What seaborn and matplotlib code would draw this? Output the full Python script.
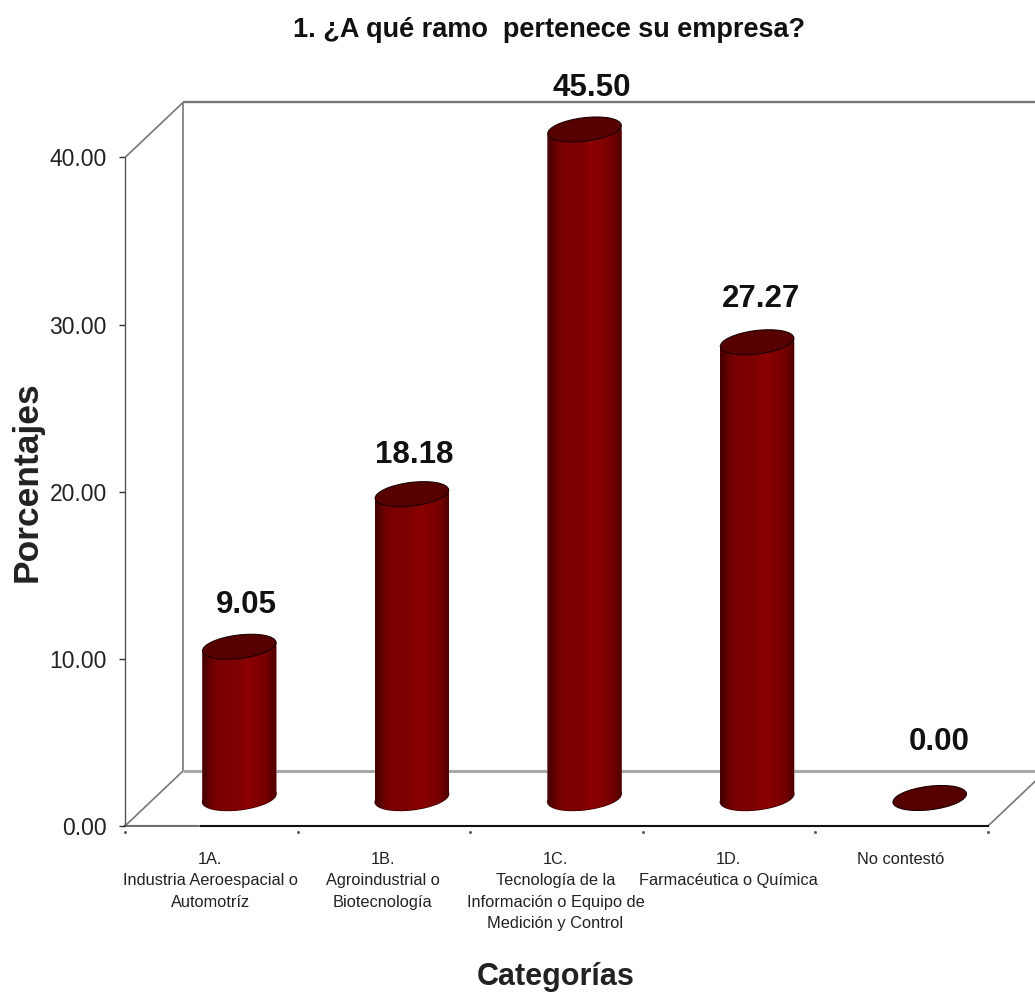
# Encuesta - ramo de la empresa, barras cilindricas
import numpy as np
import pandas as pd
import matplotlib
matplotlib.use("Agg")
import matplotlib.pyplot as plt
import seaborn as sns
from matplotlib.colors import LinearSegmentedColormap
from matplotlib.patches import Ellipse, Polygon
from matplotlib.transforms import ScaledTranslation

categories = [
    "1A.\nIndustria Aeroespacial o\nAutomotríz",
    "1B.\nAgroindustrial o\nBiotecnología",
    "1C.\nTecnología de la\nInformación o Equipo de\nMedición y Control",
    "1D.\nFarmacéutica o Química",
    "No contestó",
]
values = [9.05, 18.18, 45.50, 27.27, 0.00]
y_ticks = [0, 10, 20, 30, 40]
axis_max = 40

W, H = 1035, 994

sns.set_style("white")
plt.rcParams["font.family"] = ["Liberation Sans", "DejaVu Sans"]


def px_axes(fig, left, right, top, bottom):
    return fig.add_axes([left / W, 1 - bottom / H, (right - left) / W, (bottom - top) / H])


fig = plt.figure(figsize=(W / 100, H / 100), dpi=100, facecolor="white")

# Front plane of the fake 3D box
ax = px_axes(fig, 125, 988, 157.5, 826)
ax.set_xlim(-0.5, 4.5)
ax.set_ylim(0, axis_max)
ax.patch.set_alpha(0)
px_x = (988 - 125) / 5
px_y = (826 - 157.5) / axis_max
wall_dx = 58 / px_x
wall_dy = 55 / px_y

x0, x1 = -0.5, 4.5
grey = "#777777"
line_kw = dict(clip_on=False, solid_capstyle="butt")
ax.plot([x0 + wall_dx, x1 + wall_dx], [axis_max + wall_dy] * 2, color=grey, lw=1.7, **line_kw)
ax.plot([x0 + wall_dx, x0 + wall_dx], [0 + wall_dy, axis_max + wall_dy], color=grey, lw=1.2, **line_kw)
ax.plot([x0 + wall_dx, x1 + wall_dx], [wall_dy, wall_dy], color="#a8a8a8", lw=2.2, **line_kw)
ax.plot([x0, x0 + wall_dx], [0, wall_dy], color=grey, lw=1.2, **line_kw)
ax.plot([x0, x0 + wall_dx], [axis_max, axis_max + wall_dy], color=grey, lw=1.2, **line_kw)
ax.plot([x1, x1 + wall_dx], [0, wall_dy], color=grey, lw=1.2, **line_kw)
ax.plot(np.arange(6) - 0.5, [-0.36] * 6, ls="", marker="s", ms=1.0, color="#555555", clip_on=False)

sns.despine(ax=ax, top=True, right=True)
ax.spines["left"].set_color("#555555")
ax.spines["left"].set_linewidth(1.0)
ax.spines["bottom"].set_color("#111111")
ax.spines["bottom"].set_linewidth(1.5)
# left stretch of the floor edge is thin and grey, black only starts under the first bar
ax.plot([x0, -0.07], [0, 0], color="white", lw=2.2, clip_on=False, solid_capstyle="butt", zorder=5)
ax.plot([x0, -0.07], [0, 0], color="#555555", lw=1.2, clip_on=False, solid_capstyle="butt", zorder=6)

ax.set_yticks(y_ticks)
ax.set_yticklabels([f"{v:.2f}" for v in y_ticks], fontsize=16.5, color="#222222")
ax.tick_params(axis="y", left=True, length=4, width=1.0, color="#333333", pad=9)
ax.set_xticks(range(len(categories)))
ax.set_xticklabels(categories, fontsize=11.8, color="#222222", linespacing=1.55)
ax.tick_params(axis="x", bottom=False, pad=15)
for lab in ax.get_xticklabels():
    lab.set_transform(lab.get_transform() + ScaledTranslation(-1 / 100, 0, fig.dpi_scale_trans))

fig.text(549 / W, 1 - 30 / H, "1. ¿A qué ramo  pertenece su empresa?", ha="center", va="center",
         fontsize=19.5, fontweight="bold", color="#111111")
fig.text(27 / W, 1 - 482 / H, "Porcentajes", ha="center", va="center", rotation=90,
         fontsize=25.5, fontweight="bold", color="#222222")
fig.text(556 / W, 1 - 977 / H, "Categorías", ha="center", va="center",
         fontsize=22, fontweight="bold", color="#222222")

# Bars live on an overlay shifted back into the box
shift = 28
y_low, y_high = -3, 44
bars = px_axes(fig, 125 + shift, 988 + shift, 798 - y_high * px_y, 798 - y_low * px_y)
df = pd.DataFrame({"categoria": categories, "altura": np.minimum(values, axis_max)})
sns.barplot(data=df, x="categoria", y="altura", color="#7d0000", saturation=1, width=0.43, ax=bars)
bars.set_xlim(-0.5, 4.5)
bars.set_ylim(y_low, y_high)
bars.axis("off")

shade = np.array([[0.3, 0.65, 0.8, 0.85, 0.86, 0.86, 0.9, 1.0, 0.98, 0.9, 0.84, 0.72, 0.4]])
cmap = LinearSegmentedColormap.from_list("cyl", ["#300000", "#8a0000"])
ell_w, ell_h, ell_ang = 0.74, 0.235, 7
tilt = 4.5 / px_y


def ellipse_at(x, y, **kw):
    tr = fig.dpi_scale_trans + ScaledTranslation(x, y, bars.transData)
    return Ellipse((0, 0), ell_w, ell_h, angle=ell_ang, transform=tr, **kw)


label_dx = [7, 2, 7, 4, 9]
label_dy = [42, 39, 42, 43, 56]
for i, patch in enumerate(bars.patches):
    h = patch.get_height()
    left, right = patch.get_x(), patch.get_x() + patch.get_width()
    mid = (left + right) / 2
    if h > 0:
        body = Polygon([(left, -tilt), (right, tilt), (right, h + tilt), (left, h - tilt)],
                       closed=True, transform=bars.transData, fc="none", ec="none")
        bars.add_patch(body)
        patch.set_clip_path(body)
        im = bars.imshow(shade, extent=(left, right, -tilt * 3, h + tilt), aspect="auto", cmap=cmap,
                         vmin=0, vmax=1, interpolation="bilinear", zorder=3)
        im.set_clip_path(body)
        base = ellipse_at(mid, 0, fc="#7d0000", ec="#3a0000", lw=1.0, zorder=2.5)
        bars.add_patch(base)
        im2 = bars.imshow(shade, extent=(left, right, -tilt * 3, tilt * 3), aspect="auto", cmap=cmap,
                          vmin=0, vmax=1, interpolation="bilinear", zorder=3)
        im2.set_clip_path(base)
    bars.add_patch(ellipse_at(mid, h, fc="#560000", ec="#1c0000", lw=0.8, zorder=4))
    bars.annotate(f"{values[i]:.2f}", xy=(mid, h), xytext=(label_dx[i] * 0.72, label_dy[i] * 0.72),
                  textcoords="offset points", ha="center", va="center", fontsize=22.5, fontweight="bold",
                  color="#111111", annotation_clip=False)
bars.set_xlim(-0.5, 4.5)
bars.set_ylim(y_low, y_high)

plt.savefig("out.png", dpi=100)
